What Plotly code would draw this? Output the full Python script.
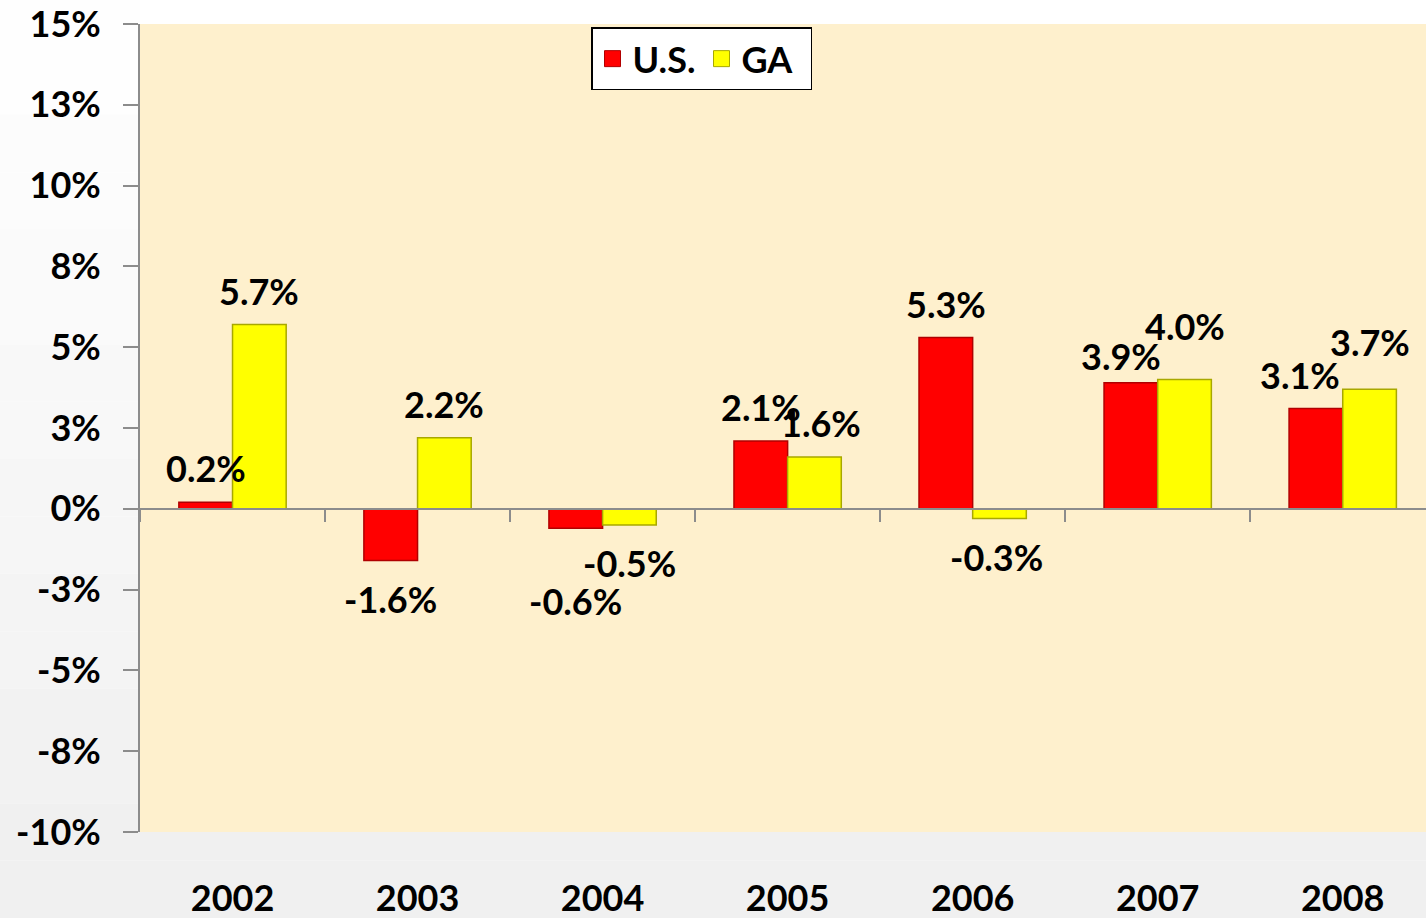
import plotly.graph_objects as go

# ---------------- data ----------------
years = ["2002", "2003", "2004", "2005", "2006", "2007", "2008"]
us_values = [0.2, -1.6, -0.6, 2.1, 5.3, 3.9, 3.1]
ga_values = [5.7, 2.2, -0.5, 1.6, -0.3, 4.0, 3.7]
y_tick_vals = [-10, -7.5, -5, -2.5, 0, 2.5, 5, 7.5, 10, 12.5, 15]
y_tick_text = ["-10%", "-8%", "-5%", "-3%", "0%", "3%", "5%", "8%", "10%", "13%", "15%"]

# ---------------- style ----------------
FONT = "Lato"
AXIS_GREY = "#8c8c8c"
W, H = 1426, 918
M_L, M_R, M_T, M_B = 140, 0, 24, 86
BARGAP = 0.42

# label placement tweaks (pixels): extra horizontal shift, extra distance from bar end
us_dx = [0, 0, 0, 0, 0, -10, -16]
us_dd = [0, 0, 35, 0, 0, -7, 0]
ga_dx = [0, 0, 0, 7, -3, 0, 0]
ga_dd = [0, 0, 0, 0, 0, 20, 13]

fig = go.Figure()

fig.add_trace(go.Bar(
    name="U.S.", x=years, y=us_values, showlegend=False,
    marker=dict(color="#FF0000", line=dict(color="#B00000", width=1.5)),
))
fig.add_trace(go.Bar(
    name="GA", x=years, y=ga_values, showlegend=False,
    marker=dict(color="#FFFF00", line=dict(color="#A8A800", width=1.5)),
))
# legend entries (larger square swatches than the default bar swatch)
fig.add_trace(go.Scatter(
    name="U.S.", x=[None], y=[None], mode="markers",
    marker=dict(symbol="square", size=16, color="#FF0000", line=dict(color="#B00000", width=1)),
))
fig.add_trace(go.Scatter(
    name="GA", x=[None], y=[None], mode="markers",
    marker=dict(symbol="square", size=16, color="#FFFF00", line=dict(color="#A8A800", width=1)),
))
# helper trace so the zero-line category axis (with boundary ticks) is drawn
fig.add_trace(go.Scatter(
    x=years, y=[None] * len(years), xaxis="x2", yaxis="y",
    mode="markers", showlegend=False, hoverinfo="skip",
))

# data labels (positioned from the category index and bar values)
half_bar = (1 - BARGAP) / 4  # centre offset of each bar in a 2-bar group (category units)
annotations = []
for vals, sign, dxs, dds in ((us_values, -1, us_dx, us_dd),
                             (ga_values, 1, ga_dx, ga_dd)):
    for i, (v, dx, dd) in enumerate(zip(vals, dxs, dds)):
        base = 34 if v >= 0 else 38
        annotations.append(dict(
            x=i + sign * half_bar, y=v, xref="x3", yref="y", showarrow=False,
            text=f"<b>{v:.1f}%</b>",
            xshift=dx,
            yshift=(base + dd) if v >= 0 else -(base + dd),
            font=dict(family=FONT, size=36, color="black"),
            xanchor="center", yanchor="middle",
        ))

# subtle vertical gradient in the margins (page background)
shapes = []
n_bands = 16
plot_w = W - M_L - M_R
plot_h = H - M_T - M_B
x_left = -M_L / plot_w
y_bottom = -M_B / plot_h
y_top = 1 + M_T / plot_h
for i in range(n_bands):
    f0 = i / n_bands
    f1 = (i + 1) / n_bands
    ya = y_top - (y_top - y_bottom) * f0
    yb = y_top - (y_top - y_bottom) * f1
    c = int(round(255 - 16 * (f0 + f1) / 2))
    col = f"rgb({c},{c},{c})"
    shapes.append(dict(type="rect", xref="paper", yref="paper",
                       x0=x_left, x1=0, y0=yb, y1=ya,
                       fillcolor=col, line=dict(width=0), layer="below"))
    lo, hi = max(yb, y_bottom), min(ya, 0)
    if hi > lo:
        shapes.append(dict(type="rect", xref="paper", yref="paper",
                           x0=0, x1=1, y0=lo, y1=hi,
                           fillcolor=col, line=dict(width=0), layer="below"))

fig.update_layout(
    width=W, height=H, autosize=False,
    margin=dict(l=M_L, r=M_R, t=M_T, b=M_B, pad=0),
    paper_bgcolor="white",
    plot_bgcolor="#FEF0CD",
    barmode="group", bargap=BARGAP, bargroupgap=0,
    font=dict(family=FONT, color="black"),
    showlegend=True,
    legend=dict(
        orientation="h", x=0.3507, y=0.996, xanchor="left", yanchor="top",
        bgcolor="white", bordercolor="black", borderwidth=1.5,
        font=dict(family=FONT, size=36, color="black", weight="bold"),
        itemwidth=30, entrywidth=64,
    ),
    xaxis=dict(
        type="category", categoryorder="array", categoryarray=years,
        range=[-0.5, 6.45], showline=False, showgrid=False, zeroline=False,
        ticks="", ticklabelstandoff=42, automargin=False,
        tickfont=dict(family=FONT, size=36, color="black", weight="bold"),
    ),
    xaxis2=dict(
        type="category", categoryorder="array", categoryarray=years,
        range=[-0.5, 6.45], overlaying="x", anchor="free", position=0.4,
        showline=True, linecolor=AXIS_GREY, linewidth=2,
        ticks="outside", tickson="boundaries", ticklen=12, tickwidth=2,
        tickcolor=AXIS_GREY, showticklabels=False, showgrid=False, zeroline=False,
        automargin=False,
    ),
    xaxis3=dict(
        type="linear", range=[-0.5, 6.45], overlaying="x", anchor="y",
        visible=False, showgrid=False, zeroline=False,
    ),
    yaxis=dict(
        range=[-10, 15], tickmode="array", tickvals=y_tick_vals, ticktext=y_tick_text,
        showline=True, linecolor=AXIS_GREY, linewidth=2,
        ticks="outside", ticklen=15, tickwidth=2, tickcolor=AXIS_GREY,
        showgrid=False, zeroline=False, ticklabelstandoff=15, automargin=False,
        tickfont=dict(family=FONT, size=36, color="black", weight="bold"),
    ),
    annotations=annotations,
    shapes=shapes,
)

# helper trace so the hidden linear label axis exists
fig.add_trace(go.Scatter(
    x=[0], y=[None], xaxis="x3", yaxis="y", mode="markers",
    showlegend=False, hoverinfo="skip",
))

fig.write_html("out.html", config={"displayModeBar": False},
               post_script="document.body.style.margin='0';")
